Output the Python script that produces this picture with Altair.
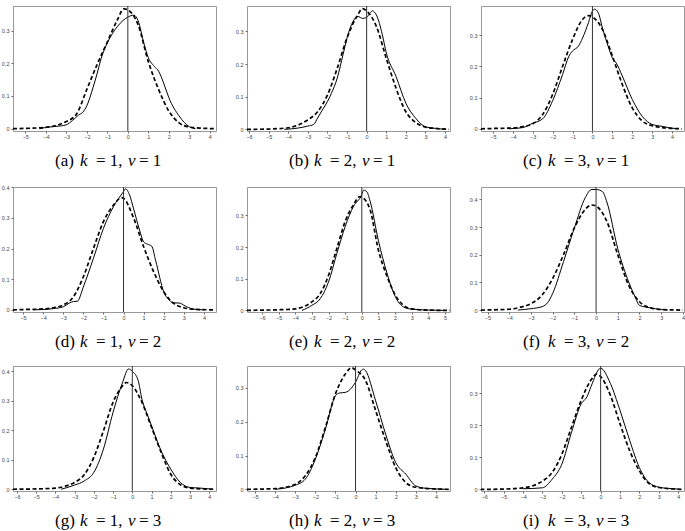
import altair as alt
import pandas as pd

# ---------------- data ----------------
# (a) k=1, v=1
A_SOLID_X = [-4.3, -4, -3.5, -3, -2.7, -2.4, -2.2, -2, -1.7, -1.5, -1.3, -1, -0.5, 0, 0.3, 0.5, 0.8, 1, 1.3, 1.5, 1.8, 2, 2.5, 3, 3.3]
A_SOLID_Y = [0, 0.004, 0.007, 0.012, 0.025, 0.042, 0.05, 0.07, 0.125, 0.168, 0.215, 0.262, 0.313, 0.341, 0.347, 0.33, 0.257, 0.217, 0.19, 0.176, 0.13, 0.095, 0.039, 0.006, 0]
A_NORM_X = [-5.6, -5, -4, -3.5, -3, -2.5, -2, -1.5, -1, -0.5, -0.2, 0, 0.5, 1, 1.5, 2, 2.5, 3, 3.5, 4.3]
A_NORM_Y = [0, 0.001, 0.004, 0.01, 0.022, 0.045, 0.12, 0.196, 0.265, 0.334, 0.366, 0.363, 0.318, 0.205, 0.12, 0.054, 0.018, 0.005, 0.002, 0]

# (b) k=2, v=1
B_SOLID_X = [-4.2, -3.5, -3, -2.7, -2.5, -2.2, -2, -1.8, -1.5, -1.2, -1, -0.7, -0.45, -0.2, 0, 0.15, 0.3, 0.5, 0.8, 1, 1.5, 2, 2.5, 3, 3.5, 4]
B_SOLID_Y = [0, 0.004, 0.01, 0.015, 0.035, 0.065, 0.085, 0.11, 0.157, 0.23, 0.28, 0.33, 0.346, 0.34, 0.343, 0.355, 0.363, 0.35, 0.29, 0.235, 0.162, 0.08, 0.034, 0.008, 0.003, 0]
B_NORM_X = [-6.1, -5, -4, -3.5, -3, -2.5, -2, -1.5, -1, -0.5, -0.2, 0, 0.5, 1, 1.5, 2, 2.5, 3, 3.5, 4.2]
B_NORM_Y = [0, 0.001, 0.005, 0.013, 0.029, 0.054, 0.105, 0.187, 0.28, 0.346, 0.37, 0.363, 0.315, 0.218, 0.126, 0.054, 0.021, 0.007, 0.003, 0]

# (c) k=3, v=1
C_SOLID_X = [-4.2, -3.5, -3, -2.5, -2, -1.5, -1.2, -1, -0.7, -0.5, -0.2, 0, 0.1, 0.3, 0.5, 0.8, 1, 1.2, 1.5, 2, 2.5, 3, 3.5, 4, 4.3]
C_SOLID_Y = [0, 0.004, 0.018, 0.032, 0.09, 0.174, 0.23, 0.249, 0.265, 0.29, 0.34, 0.377, 0.383, 0.37, 0.323, 0.262, 0.227, 0.21, 0.169, 0.094, 0.04, 0.014, 0.008, 0.002, 0]
C_NORM_X = [-5.6, -5, -4, -3.5, -3, -2.5, -2, -1.5, -1, -0.5, -0.2, 0, 0.5, 1, 1.5, 2, 2.5, 3, 3.5, 4.5]
C_NORM_Y = [0, 0.001, 0.003, 0.007, 0.016, 0.046, 0.11, 0.2, 0.286, 0.35, 0.362, 0.358, 0.318, 0.233, 0.142, 0.067, 0.025, 0.01, 0.004, 0]

# (d) k=1, v=2
D_SOLID_X = [-4.5, -4, -3.5, -3, -2.7, -2.5, -2.3, -2, -1.5, -1, -0.5, 0, 0.1, 0.3, 0.5, 0.8, 1, 1.2, 1.4, 1.6, 2, 2.3, 2.5, 2.8, 3, 3.5, 4]
D_SOLID_Y = [0, 0.001, 0.004, 0.01, 0.022, 0.027, 0.028, 0.075, 0.168, 0.266, 0.337, 0.386, 0.395, 0.375, 0.33, 0.26, 0.222, 0.214, 0.208, 0.16, 0.059, 0.03, 0.023, 0.022, 0.015, 0.002, 0]
D_NORM_X = [-5.5, -5, -4, -3.5, -3, -2.5, -2, -1.5, -1, -0.5, -0.1, 0, 0.5, 1, 1.5, 2, 2.5, 3, 3.5, 4.5]
D_NORM_Y = [0, 0.001, 0.003, 0.007, 0.016, 0.042, 0.108, 0.2, 0.288, 0.342, 0.366, 0.364, 0.3, 0.206, 0.124, 0.059, 0.021, 0.007, 0.002, 0]

# (e) k=2, v=2
E_SOLID_X = [-3.6, -3, -2.5, -2, -1.5, -1, -0.5, 0, 0.1, 0.3, 0.5, 1, 1.5, 2, 2.5, 3, 4, 5]
E_SOLID_Y = [0, 0.016, 0.037, 0.09, 0.18, 0.265, 0.329, 0.366, 0.38, 0.375, 0.345, 0.22, 0.12, 0.045, 0.011, 0.004, 0.001, 0]
E_NORM_X = [-6.9, -6, -5, -4, -3.5, -3, -2.5, -2, -1.5, -1, -0.5, -0.1, 0, 0.5, 1, 1.5, 2, 2.5, 3, 4, 5.3]
E_NORM_Y = [0, 0.001, 0.002, 0.005, 0.012, 0.027, 0.053, 0.111, 0.196, 0.281, 0.334, 0.36, 0.358, 0.318, 0.19, 0.11, 0.05, 0.016, 0.005, 0.001, 0]

# (f) k=3, v=2
F_SOLID_X = [-3.6, -3, -2.5, -2.2, -2, -1.5, -1, -0.5, -0.2, 0, 0.3, 0.5, 1, 1.5, 1.8, 2, 2.5, 3, 3.3]
F_SOLID_Y = [0, 0.005, 0.012, 0.03, 0.06, 0.175, 0.297, 0.406, 0.436, 0.436, 0.428, 0.39, 0.222, 0.102, 0.047, 0.017, 0.008, 0.002, 0]
F_NORM_X = [-5.3, -4, -3.5, -3, -2.5, -2, -1.5, -1, -0.5, -0.2, 0, 0.5, 1, 1.5, 2, 2.5, 3, 4]
F_NORM_Y = [0, 0.003, 0.01, 0.023, 0.053, 0.114, 0.2, 0.297, 0.364, 0.38, 0.376, 0.32, 0.2, 0.09, 0.03, 0.008, 0.002, 0]

# (g) k=1, v=3
G_SOLID_X = [-3.7, -3, -2.5, -2, -1.5, -1, -0.5, -0.2, 0, 0.3, 0.5, 0.8, 1, 1.5, 2, 2.5, 3, 3.5, 4.2]
G_SOLID_Y = [0, 0.014, 0.028, 0.057, 0.136, 0.261, 0.363, 0.408, 0.4, 0.37, 0.306, 0.25, 0.215, 0.13, 0.068, 0.023, 0.006, 0.004, 0]
G_NORM_X = [-6.2, -5, -4, -3.5, -3, -2.5, -2, -1.5, -1, -0.5, -0.3, 0, 0.5, 1, 1.5, 2, 2.5, 3, 4.2]
G_NORM_Y = [0, 0.001, 0.004, 0.01, 0.023, 0.049, 0.108, 0.198, 0.295, 0.351, 0.362, 0.351, 0.295, 0.21, 0.125, 0.051, 0.015, 0.004, 0]

# (h) k=2, v=3
H_SOLID_X = [-4, -3, -2.5, -2, -1.5, -1, -0.8, -0.5, -0.2, 0, 0.3, 0.4, 0.5, 1, 1.5, 2, 2.5, 3, 3.5, 4.5]
H_SOLID_Y = [0, 0.012, 0.03, 0.089, 0.178, 0.277, 0.285, 0.287, 0.3, 0.317, 0.353, 0.356, 0.351, 0.262, 0.163, 0.079, 0.045, 0.01, 0.003, 0]
H_NORM_X = [-5.4, -4, -3, -2.5, -2, -1.5, -1, -0.5, -0.2, 0, 0.5, 1, 1.5, 2, 2.5, 3, 4, 4.7]
H_NORM_Y = [0, 0.002, 0.015, 0.04, 0.094, 0.183, 0.282, 0.342, 0.36, 0.353, 0.322, 0.233, 0.144, 0.064, 0.02, 0.006, 0.001, 0]

# (i) k=3, v=3
I_SOLID_X = [-4, -3, -2.5, -2, -1.5, -1, -0.7, -0.5, 0, 0.5, 1, 1.5, 2, 2.5, 3, 3.5, 4]
I_SOLID_Y = [0.002, 0.005, 0.032, 0.079, 0.179, 0.268, 0.29, 0.321, 0.379, 0.332, 0.247, 0.153, 0.068, 0.021, 0.007, 0.003, 0.001]
I_NORM_X = [-6.2, -5, -4, -3, -2.5, -2, -1.5, -1, -0.5, -0.2, 0, 0.5, 1, 1.5, 2, 2.5, 3, 4.3]
I_NORM_Y = [0, 0.001, 0.005, 0.026, 0.053, 0.11, 0.195, 0.279, 0.342, 0.361, 0.353, 0.295, 0.205, 0.121, 0.058, 0.018, 0.006, 0]

CAPTIONS = ["(a)", "(b)", "(c)", "(d)", "(e)", "(f)", "(g)", "(h)", "(i)"]
K_VALUES = [1, 2, 3, 1, 2, 3, 1, 2, 3]
V_VALUES = [1, 1, 1, 2, 2, 2, 3, 3, 3]
X_DOMAINS = [[-5.6, 4.3], [-6.1, 4.25], [-5.6, 4.6], [-5.5, 4.6], [-6.9, 5.3],
             [-5.3, 4.05], [-6.2, 4.35], [-5.4, 4.7], [-6.17, 4.3]]
Y_DOMAINS = [[-0.007, 0.375], [-0.005, 0.378], [-0.007, 0.393], [-0.007, 0.401], [-0.005, 0.39],
             [-0.007, 0.445], [-0.006, 0.418], [-0.005, 0.365], [-0.005, 0.386]]
X_TICKS = [list(range(-5, 5)), list(range(-6, 5)), list(range(-5, 5)), list(range(-5, 5)),
           list(range(-6, 6)), list(range(-5, 5)), list(range(-6, 5)), list(range(-5, 5)),
           list(range(-6, 5))]
Y_TICKS = [[0, 0.1, 0.2, 0.3], [0, 0.1, 0.2, 0.3], [0, 0.1, 0.2, 0.3],
           [0, 0.1, 0.2, 0.3, 0.4], [0, 0.1, 0.2, 0.3], [0, 0.1, 0.2, 0.3, 0.4],
           [0, 0.1, 0.2, 0.3, 0.4], [0, 0.1, 0.2, 0.3], [0, 0.1, 0.2, 0.3]]

SOLIDS = [(A_SOLID_X, A_SOLID_Y), (B_SOLID_X, B_SOLID_Y), (C_SOLID_X, C_SOLID_Y),
          (D_SOLID_X, D_SOLID_Y), (E_SOLID_X, E_SOLID_Y), (F_SOLID_X, F_SOLID_Y),
          (G_SOLID_X, G_SOLID_Y), (H_SOLID_X, H_SOLID_Y), (I_SOLID_X, I_SOLID_Y)]
NORMS = [(A_NORM_X, A_NORM_Y), (B_NORM_X, B_NORM_Y), (C_NORM_X, C_NORM_Y),
         (D_NORM_X, D_NORM_Y), (E_NORM_X, E_NORM_Y), (F_NORM_X, F_NORM_Y),
         (G_NORM_X, G_NORM_Y), (H_NORM_X, H_NORM_Y), (I_NORM_X, I_NORM_Y)]

W, H = 203, 125
CAP_FONT = "Liberation Serif"
CAP_SIZE = 17
CAP_BASE = H + 35


def cap_text(s, offset, italic=False):
    return alt.Chart(pd.DataFrame({"t": [s]})).mark_text(
        font=CAP_FONT, fontSize=CAP_SIZE, fontStyle="italic" if italic else "normal",
        align="left", baseline="alphabetic", color="black"
    ).encode(text="t:N", x=alt.value(W / 2 + offset), y=alt.value(CAP_BASE))


def panel(i):
    sx, sy = SOLIDS[i]
    nx, ny = NORMS[i]
    solid_df = pd.DataFrame({"x": sx, "y": sy})
    norm_df = pd.DataFrame({"x": nx, "y": ny})
    xs = alt.Scale(domain=X_DOMAINS[i], nice=False, zero=False)
    ys = alt.Scale(domain=Y_DOMAINS[i], nice=False, zero=False)
    xa = alt.Axis(values=X_TICKS[i], title=None, grid=False, domain=False, labelOverlap=False,
                  labelFlush=False, tickSize=2, labelPadding=1.5, labelFontSize=5.5)
    ya = alt.Axis(values=Y_TICKS[i], title=None, grid=False, domain=False, format="~g",
                  labelOverlap=False, labelFlush=False, tickSize=2, labelPadding=2,
                  labelFontSize=5.5)
    X = alt.X("x:Q", scale=xs, axis=xa)
    Y = alt.Y("y:Q", scale=ys, axis=ya)
    solid = alt.Chart(solid_df).mark_line(
        color="black", strokeWidth=1, interpolate="monotone", clip=True
    ).encode(x=X, y=Y)
    norm = alt.Chart(norm_df).mark_line(
        color="black", strokeWidth=1.7, strokeDash=[4, 2.5], interpolate="monotone", clip=True
    ).encode(x=X, y=Y)
    zero = alt.Chart(pd.DataFrame({"x": [0]})).mark_rule(
        color="#333333", strokeWidth=1
    ).encode(x=X)
    caption = [
        cap_text(CAPTIONS[i], -59.5),
        cap_text("k", -34.5, italic=True),
        cap_text(f"= {K_VALUES[i]},", -18.5),
        cap_text("v", 13.5, italic=True),
        cap_text(f"= {V_VALUES[i]}", 24.5),
    ]
    return alt.layer(solid, norm, zero, *caption).properties(width=W, height=H)


rows = [alt.hconcat(*[panel(r * 3 + c) for c in range(3)], spacing=17) for r in range(3)]
chart = alt.vconcat(*rows, spacing=14).properties(
    padding={"left": 0, "top": 5, "right": 0, "bottom": 0}
).configure_view(
    stroke="#999999", strokeWidth=1
).configure_axis(
    labelFont="Liberation Sans", labelColor="#444444", tickColor="#666666",
    labelOverlap=False
)

chart.save("out.html", embed_options={"renderer": "svg", "actions": False})
